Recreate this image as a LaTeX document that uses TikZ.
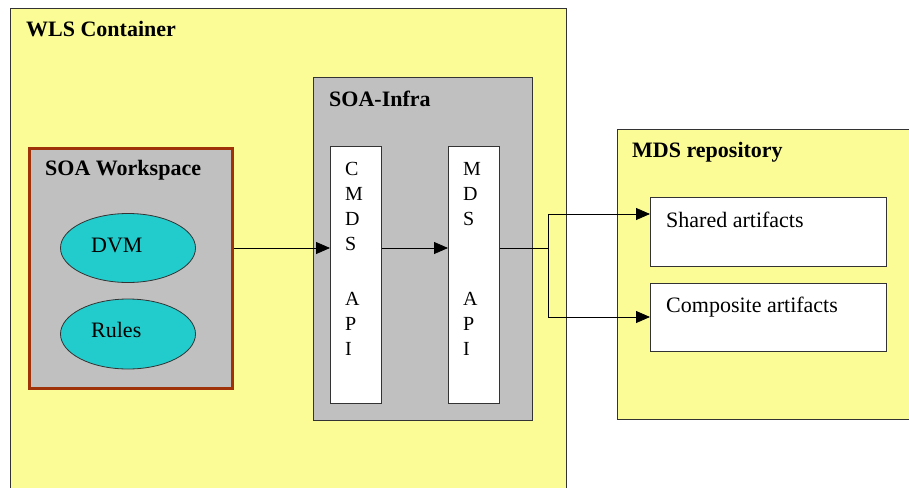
\documentclass[tikz,border=0pt]{standalone}
\usepackage{fontspec}
\setmainfont{Liberation Serif}
\usetikzlibrary{arrows.meta,shapes.geometric}
\definecolor{ylw}{HTML}{FCFC96}
\definecolor{gry}{HTML}{C0C0C0}
\definecolor{cyn}{HTML}{22CCCC}
\definecolor{brn}{HTML}{A0320A}
\definecolor{edge}{HTML}{333333}
\tikzset{
  box/.style={draw=edge, line width=1pt, rectangle, inner sep=0pt, anchor=north west},
  ttl/.style={anchor=base west, inner sep=0pt, font=\fontsize{22}{25}\selectfont\bfseries},
  txt/.style={anchor=base west, inner sep=0pt, font=\fontsize{22}{25}\selectfont},
  col/.style={anchor=north west, inner sep=0pt, align=left, font=\fontsize{20}{25}\selectfont},
  oval/.style={ellipse, draw=edge, line width=0.8pt, fill=cyn, inner sep=0pt},
  arr/.style={draw=black, line width=0.8pt, -{Triangle[length=14pt,width=12pt]}},
  ln/.style={draw=black, line width=0.8pt}
}
\begin{document}
\begin{tikzpicture}[x=1pt,y=-1pt]
\clip (0,0) rectangle (909,487);
\fill[white] (0,0) rectangle (909,487);
% containers
\node[box, fill=ylw, minimum width=556pt, minimum height=500pt] (wls) at (10,8) {};
\node[ttl] (wlsT) at (26,37) {WLS Container};
\node[box, draw=brn, line width=3pt, fill=gry, minimum width=203pt, minimum height=240pt] (ws) at (27.5,146.5) {};
\node[ttl] (wsT) at (45,175) {SOA Workspace};
\node[oval, minimum width=135pt, minimum height=69pt] (dvm) at (128,248) {};
\node[txt] (dvmT) at (91,252) {DVM};
\node[oval, minimum width=135pt, minimum height=70pt] (rules) at (128,334) {};
\node[txt] (rulesT) at (91,337) {Rules};
\node[box, fill=gry, minimum width=219pt, minimum height=343pt] (infra) at (313,77) {};
\node[ttl] (infraT) at (329,106) {SOA-Infra};
\node[box, fill=white, minimum width=51pt, minimum height=257pt] (cmds) at (330,146) {};
\node[col] (cmdsT) at (345,162) {C\\M\\D\\S\\[30pt]A\\P\\I};
\node[box, fill=white, minimum width=51pt, minimum height=257pt] (mdsapi) at (448,146) {};
\node[col] (mdsapiT) at (463,162) {M\\D\\S\\[55pt]A\\P\\I};
\node[box, fill=ylw, minimum width=320pt, minimum height=290pt] (repo) at (617,129) {};
\node[ttl] (repoT) at (632,157) {MDS repository};
\node[box, fill=white, minimum width=236pt, minimum height=69pt] (shared) at (650,197) {};
\node[txt] (sharedT) at (666,227) {Shared artifacts};
\node[box, fill=white, minimum width=236pt, minimum height=68pt] (comp) at (650,283) {};
\node[txt] (compT) at (666,312) {Composite artifacts};
% connectors
\coordinate (split) at (548,248);
\coordinate (jt) at (548,214);
\coordinate (jb) at (548,317);
\draw[arr] (ws.east |- dvm.center) -- (cmds.west |- dvm.center);
\draw[arr] (cmds.east |- dvm.center) -- (mdsapi.west |- dvm.center);
\draw[ln] (mdsapi.east |- dvm.center) -- (split);
\draw[ln] (jt) -- (jb);
\draw[arr] (jt) -- (shared.west |- jt);
\draw[arr] (jb) -- (comp.west |- jb);
\end{tikzpicture}
\end{document}
